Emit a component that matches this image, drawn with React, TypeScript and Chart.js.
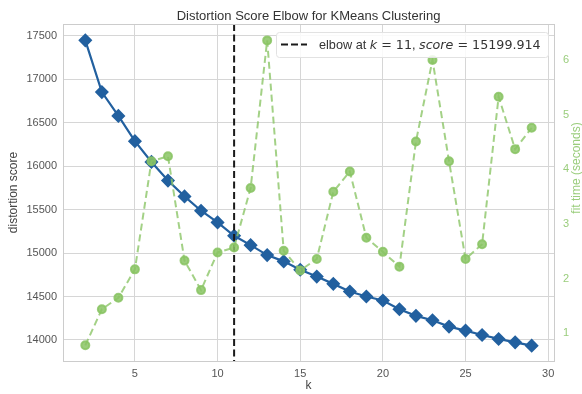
import { useEffect, useRef } from 'react';
import { Chart, registerables } from 'chart.js';

Chart.register(...registerables);

const kValues = [2, 3, 4, 5, 6, 7, 8, 9, 10, 11, 12, 13, 14, 15, 16, 17, 18, 19, 20, 21, 22, 23, 24, 25, 26, 27, 28, 29];
const distortionScores = [17450, 16854, 16580, 16289, 16050, 15835, 15653, 15488, 15354, 15199.914, 15092, 14977, 14905, 14808, 14730, 14646, 14558, 14500, 14454, 14354, 14278, 14227, 14154, 14108, 14058, 14012, 13973, 13935];
const fitTimes = [0.78, 1.44, 1.65, 2.17, 4.15, 4.24, 2.33, 1.79, 2.48, 2.57, 3.66, 6.36, 2.51, 2.15, 2.36, 3.59, 3.96, 2.75, 2.49, 2.22, 4.51, 6.0, 4.15, 2.36, 2.63, 5.33, 4.37, 4.76];
const xTicks = [5, 10, 15, 20, 25, 30];
const scoreTicks = [14000, 14500, 15000, 15500, 16000, 16500, 17000, 17500];
const timeTicks = [1, 2, 3, 4, 5, 6];
const elbowK = 11;
const elbowScore = 15199.914;
const titleText = 'Distortion Score Elbow for KMeans Clustering';
const timeLabel = 'fit time (seconds)';

const BLUE = '#22609f';
const GREEN_LINE = 'rgba(140,198,104,0.8)';
const GREEN_PT = 'rgba(137,196,100,0.85)';
const GREEN_TXT = '#9acd7c';
const GRID = '#d6d6d6';
const SANS = '"Liberation Sans", Arial, sans-serif';
const MATH = '"DejaVu Sans", sans-serif';

const overlay = {
  id: 'overlay',
  afterDatasetDraw(chart: any, args: any) {
    if (args.index !== 1) return;
    const { ctx, chartArea } = chart;
    const x = chart.scales.x.getPixelForValue(elbowK);
    ctx.save();
    ctx.strokeStyle = '#1a1a1a';
    ctx.lineWidth = 2;
    ctx.setLineDash([7, 3.5]);
    ctx.beginPath();
    ctx.moveTo(x, chartArea.top);
    ctx.lineTo(x, chartArea.bottom);
    ctx.stroke();
    ctx.restore();
  },
  afterDraw(chart: any) {
    const { ctx, chartArea } = chart;
    ctx.save();
    // top spine
    ctx.strokeStyle = '#cccccc';
    ctx.lineWidth = 1;
    ctx.beginPath();
    ctx.moveTo(chartArea.left, chartArea.top + 0.5);
    ctx.lineTo(chartArea.right, chartArea.top + 0.5);
    ctx.stroke();
    // title
    ctx.fillStyle = '#333333';
    ctx.font = `13px ${SANS}`;
    ctx.textAlign = 'center';
    ctx.textBaseline = 'alphabetic';
    ctx.fillText(titleText, (chartArea.left + chartArea.right) / 2, 19.5);
    // right axis label
    ctx.save();
    ctx.translate(577, 168);
    ctx.rotate(-Math.PI / 2);
    ctx.fillStyle = GREEN_TXT;
    ctx.font = `12px ${SANS}`;
    ctx.textAlign = 'center';
    ctx.textBaseline = 'middle';
    ctx.fillText(timeLabel, 0, 0);
    ctx.restore();
    // legend
    const bx = 276, by = 32, bw = 272, bh = 25;
    ctx.fillStyle = 'rgba(255,255,255,0.85)';
    ctx.strokeStyle = '#e2e2e2';
    ctx.lineWidth = 1;
    ctx.beginPath();
    ctx.roundRect(bx + 0.5, by + 0.5, bw, bh, 3);
    ctx.fill();
    ctx.stroke();
    ctx.strokeStyle = '#1a1a1a';
    ctx.lineWidth = 2;
    ctx.setLineDash([7, 3]);
    ctx.beginPath();
    ctx.moveTo(281, 44.5);
    ctx.lineTo(307, 44.5);
    ctx.stroke();
    ctx.setLineDash([]);
    const fs = 12.7;
    const segs: [string, string][] = [
      ['elbow at ', `${fs}px ${SANS}`],
      ['k', `oblique ${fs}px ${MATH}`],
      [` = ${elbowK}`, `${fs}px ${MATH}`],
      [', ', `${fs}px ${SANS}`],
      ['score', `oblique ${fs}px ${MATH}`],
      [` = ${elbowScore.toFixed(3)}`, `${fs}px ${MATH}`],
    ];
    ctx.fillStyle = '#333333';
    ctx.textAlign = 'left';
    let tx = 319;
    for (const [t, f] of segs) {
      ctx.font = f;
      ctx.fillText(t, tx, 49);
      tx += ctx.measureText(t).width;
    }
    ctx.restore();
  },
};

export default function App() {
  const ref = useRef<HTMLCanvasElement>(null);
  useEffect(() => {
    if (!ref.current) return;
    const chart = new Chart(ref.current, {
      type: 'line',
      data: {
        datasets: [
          {
            label: 'fit time',
            data: kValues.map((k, i) => ({ x: k, y: fitTimes[i] })),
            yAxisID: 'y1',
            borderColor: GREEN_LINE,
            backgroundColor: GREEN_PT,
            pointBackgroundColor: GREEN_PT,
            pointBorderColor: GREEN_PT,
            borderWidth: 2,
            borderDash: [7, 4],
            pointRadius: 4,
            pointStyle: 'circle',
            tension: 0,
            order: 1,
          },
          {
            label: 'distortion score',
            data: kValues.map((k, i) => ({ x: k, y: distortionScores[i] })),
            yAxisID: 'y',
            borderColor: BLUE,
            backgroundColor: BLUE,
            pointBackgroundColor: BLUE,
            pointBorderColor: BLUE,
            borderWidth: 2.2,
            pointRadius: 5.5,
            pointStyle: 'rectRot',
            tension: 0,
            order: 2,
          },
        ],
      },
      options: {
        responsive: false,
        animation: false,
        layout: { padding: { top: 24, left: 0, right: 0, bottom: 0 } },
        plugins: {
          legend: { display: false },
          title: { display: false },
          tooltip: { enabled: false },
        },
        scales: {
          x: {
            type: 'linear',
            min: 0.65,
            max: 30.35,
            afterFit: (s: any) => { s.height = 33; },
            afterBuildTicks: (s: any) => { s.ticks = xTicks.map((v) => ({ value: v })); },
            grid: { color: GRID, drawTicks: false },
            border: { color: '#cccccc' },
            ticks: { color: '#555555', font: { family: SANS, size: 11 }, padding: 6, maxRotation: 0 },
            title: { display: true, text: 'k', color: '#444444', font: { family: SANS, size: 12 }, padding: { top: 0, bottom: 1 } },
          },
          y: {
            type: 'linear',
            position: 'left',
            min: 13758,
            max: 17638,
            afterFit: (s: any) => { s.width = 63; },
            afterBuildTicks: (s: any) => { s.ticks = scoreTicks.map((v) => ({ value: v })); },
            grid: { color: GRID, drawTicks: false },
            border: { color: '#cccccc' },
            ticks: { color: '#555555', font: { family: SANS, size: 11 }, padding: 6, callback: (v: any) => String(v) },
            title: { display: true, text: 'distortion score', color: '#444444', font: { family: SANS, size: 12 }, padding: { top: 6, bottom: 0 } },
          },
          y1: {
            type: 'linear',
            position: 'right',
            min: 0.493,
            max: 6.66,
            afterFit: (s: any) => { s.width = 28; },
            afterBuildTicks: (s: any) => { s.ticks = timeTicks.map((v) => ({ value: v })); },
            grid: { display: false, drawTicks: false },
            border: { color: '#cccccc' },
            ticks: { color: GREEN_TXT, font: { family: SANS, size: 11 }, padding: 9, callback: (v: any) => String(v) },
          },
        },
      },
      plugins: [overlay],
    } as any);
    return () => chart.destroy();
  }, []);
  return (
    <div style={{ position: 'fixed', left: 0, top: 0, width: 582, height: 394, background: '#fff' }}>
      <canvas ref={ref} width={582} height={394} />
    </div>
  );
}
